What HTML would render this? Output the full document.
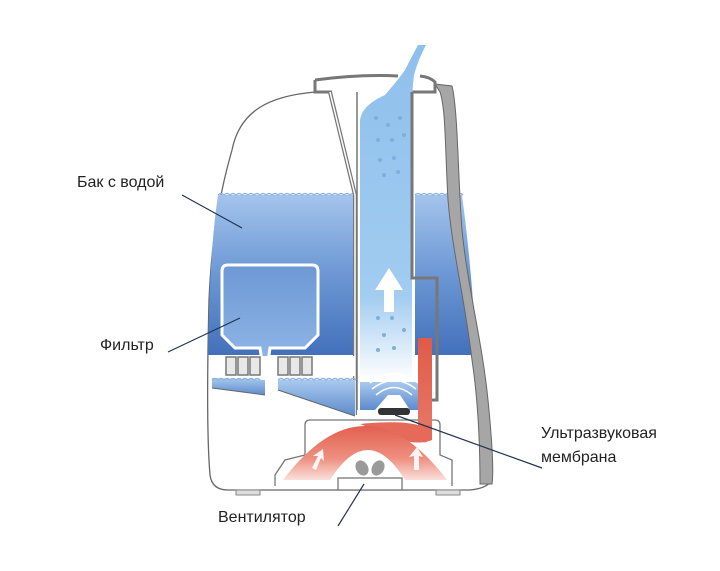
<!DOCTYPE html>
<html><head><meta charset="utf-8"><style>
html,body{margin:0;padding:0;background:#fff}
svg{display:block}
text{font-family:"Liberation Sans",sans-serif;font-size:16px;fill:#222}
</style></head><body>
<svg width="720" height="571" viewBox="0 0 720 571" xmlns="http://www.w3.org/2000/svg">
<defs>
<linearGradient id="w" x1="0" y1="0" x2="0" y2="1">
<stop offset="0" stop-color="#a3c4ec"/><stop offset="0.5" stop-color="#6c97d4"/><stop offset="1" stop-color="#4370bb"/></linearGradient>
<linearGradient id="f" x1="0" y1="0" x2="0" y2="1">
<stop offset="0" stop-color="#6d98d4"/><stop offset="1" stop-color="#8fb6e6"/></linearGradient>
<linearGradient id="t" x1="0" y1="0" x2="0" y2="1">
<stop offset="0" stop-color="#8ec0ec"/><stop offset="0.75" stop-color="#a2ccf0"/><stop offset="1" stop-color="#ffffff"/></linearGradient>
<linearGradient id="lb" x1="0" y1="0" x2="0" y2="1">
<stop offset="0" stop-color="#a9c9ee"/><stop offset="1" stop-color="#5d8bcd"/></linearGradient>
<linearGradient id="rv" x1="0" y1="0" x2="0" y2="1">
<stop offset="0" stop-color="#e05a48"/><stop offset="1" stop-color="#e87a6a"/></linearGradient>
<linearGradient id="ra" x1="0" y1="0" x2="0" y2="1">
<stop offset="0" stop-color="#e2604f"/><stop offset="0.6" stop-color="#ee8f80"/><stop offset="1" stop-color="#fbe0dc"/></linearGradient>
</defs>
<path d="M315,92 C270,96 240,110 232,150 C222,185 212,230 209,300 C207,380 207,440 210,475 Q212,490 228,490 L470,490 Q490,488 492,478" fill="#fff" stroke="#666" stroke-width="1.3"/>
<path d="M218,195 L355,195 L355,355 L208,355 C209,290 212,235 218,195Z" fill="url(#w)"/>
<path d="M218,195 q3,-3 6,0 q3,-3 6,0 q3,-3 6,0 q3,-3 6,0 q3,-3 6,0 q3,-3 6,0 q3,-3 6,0 q3,-3 6,0 q3,-3 6,0 q3,-3 6,0 q3,-3 6,0 q3,-3 6,0 q3,-3 6,0 q3,-3 6,0 q3,-3 6,0 q3,-3 6,0 q3,-3 6,0 q3,-3 6,0 q3,-3 6,0 q3,-3 6,0 q3,-3 6,0 q3,-3 6,0 q3,-3 6,0" fill="none" stroke="#8fb4e4" stroke-width="1.5"/>
<path d="M415,195 L462,195 C468,240 474,300 476,355 L415,355Z" fill="url(#w)"/>
<path d="M415,195 q3,-3 6,0 q3,-3 6,0 q3,-3 6,0 q3,-3 6,0 q3,-3 6,0 q3,-3 6,0 q3,-3 6,0 q3,-3 6,0" fill="none" stroke="#8fb4e4" stroke-width="1.5"/>
<path d="M435,84 L452,86 C458,110 458,180 462,230 C468,290 482,340 488,400 C492,440 494,470 492,484 L480,484 C480,440 478,400 472,360 C465,300 452,250 448,200 C445,150 446,110 440,92Z" fill="#a6a6a6" stroke="#666" stroke-width="1"/>
<path d="M315,80 Q360,74 398,76 M420,76 Q430,77 435,82 L435,92 L412,92 M315,80 L315,92 L332,92" fill="none" stroke="#777" stroke-width="3"/>
<path d="M330,92 L355,195 L355,415" fill="none" stroke="#777" stroke-width="4"/>
<path d="M330,92 L355,195 L355,415" fill="none" stroke="#fff" stroke-width="1.5"/>
<path d="M360,380 L360,120 Q362,105 385,95 Q398,80 405,70 Q410,60 418,45 L426,45 Q418,60 414,75 Q412,90 412,110 L412,380Z" fill="url(#t)"/>
<path d="M412,92 L412,278 L437,278 L437,400 L420,400" fill="none" stroke="#777" stroke-width="3"/>
<path d="M357,92 L357,410" fill="none" stroke="#777" stroke-width="1.5"/>
<g fill="#7eaedc">
<circle cx="376" cy="118" r="2"/><circle cx="388" cy="125" r="2"/><circle cx="400" cy="118" r="2"/>
<circle cx="378" cy="140" r="2"/><circle cx="392" cy="140" r="2"/><circle cx="404" cy="135" r="2"/>
<circle cx="380" cy="160" r="2"/><circle cx="394" cy="158" r="2"/><circle cx="384" cy="175" r="2"/><circle cx="398" cy="172" r="2"/>
<circle cx="378" cy="318" r="2"/><circle cx="392" cy="318" r="2"/><circle cx="404" cy="330" r="2"/><circle cx="384" cy="335" r="2"/><circle cx="378" cy="350" r="2"/><circle cx="394" cy="348" r="2"/>
</g>
<path d="M384,290 L384,312 L394,312 L394,290 L403,290 L389,268 L375,290Z" fill="#fff"/>
<path d="M222,271 Q222,265 228,265 L312,265 Q318,265 318,271 L318,335 L305,348 L270,348 L268,362 L262,362 L260,348 L235,348 L222,335Z" fill="url(#f)" stroke="#fff" stroke-width="3"/>
<rect x="209" y="356" width="146" height="20" fill="#fff"/>
<path d="M212,378 L265,380 L265,395 L212,388Z" fill="url(#lb)"/>
<path d="M278,380 L355,380 L355,416 L278,390Z" fill="url(#lb)"/>
<path d="M212,380 q3,-3 6,0 q3,-3 6,0 q3,-3 6,0 q3,-3 6,0 q3,-3 6,0 q3,-3 6,0 q3,-3 6,0 q3,-3 6,0 M278,380 q3,-3 6,0 q3,-3 6,0 q3,-3 6,0 q3,-3 6,0 q3,-3 6,0 q3,-3 6,0 q3,-3 6,0 q3,-3 6,0 q3,-3 6,0 q3,-3 6,0 q3,-3 6,0 q3,-3 6,0 q3,-3 6,0" fill="none" stroke="#8fb4e4" stroke-width="1.3"/>
<path d="M212,388 L265,395 M278,390 L355,416" stroke="#666" stroke-width="1"/>
<g fill="#e8e8e8" stroke="#777" stroke-width="1.5">
<rect x="226" y="357" width="10" height="18"/><rect x="238" y="357" width="10" height="18"/><rect x="250" y="357" width="10" height="18"/>
<rect x="278" y="357" width="10" height="18"/><rect x="290" y="357" width="10" height="18"/><rect x="302" y="357" width="10" height="18"/>
</g>
<path d="M360,382 L420,382 L420,410 L410,410 L400,395 L388,395 L375,410 L360,410Z" fill="url(#lb)"/>
<path d="M420,372 L420,410" stroke="#777" stroke-width="2"/>
<g fill="none" stroke="#fff" stroke-width="1.5">
<path d="M376,395 Q394,380 412,395"/><path d="M372,389 Q394,372 416,389"/><path d="M370,383 Q394,365 418,383"/>
</g>
<rect x="378" y="408" width="32" height="7" rx="3" fill="#333"/>
<path d="M305,455 L305,425 Q305,420 310,420 L435,420 Q440,420 440,425 L440,455 L452,460 L452,486" fill="none" stroke="#777" stroke-width="1.3"/>
<path d="M305,455 L285,460 L275,475 L275,486" fill="none" stroke="#777" stroke-width="1.3"/>
<path d="M418,338 L432,338 L432,430 Q430,448 418,440 Z" fill="url(#rv)"/>
<path d="M360,424 Q400,420 418,425 L432,425 L432,440 Q420,445 400,440 Z" fill="#e56a59"/>
<path d="M283,480 Q365,372 447,480 L405,480 Q368,420 330,480Z" fill="url(#ra)"/>
<g fill="#fff" opacity="0.9">
<path d="M312,468 l6,-12 l-5,0 l10,-7 l1,12 l-3,-3 l-5,12z"/>
<path d="M414,470 l0,-14 l-5,1 l8,-10 l6,10 l-4,-1 l0,14z"/>
</g>
<rect x="338" y="478" width="64" height="12" fill="#fff" stroke="#777" stroke-width="1.3"/>
<ellipse cx="362" cy="468" rx="6" ry="8" fill="#9a9a9a" transform="rotate(-30 362 468)"/>
<ellipse cx="378" cy="468" rx="6" ry="8" fill="#9a9a9a" transform="rotate(30 378 468)"/>
<rect x="236" y="490" width="24" height="5" fill="#ddd" stroke="#888" stroke-width="1"/>
<rect x="436" y="490" width="24" height="5" fill="#ddd" stroke="#888" stroke-width="1"/>
<g stroke="#1f3552" stroke-width="1.2">
<line x1="182" y1="195" x2="242" y2="228"/>
<line x1="168" y1="352" x2="240" y2="318"/>
<line x1="395" y1="415" x2="542" y2="468"/>
<line x1="338" y1="526" x2="364" y2="484"/>
</g>
<text x="77" y="187">Бак с водой</text>
<text x="100" y="350">Фильтр</text>
<text x="541" y="438">Ультразвуковая</text>
<text x="541" y="462">мембрана</text>
<text x="218" y="522">Вентилятор</text>
</svg>
</body></html>
